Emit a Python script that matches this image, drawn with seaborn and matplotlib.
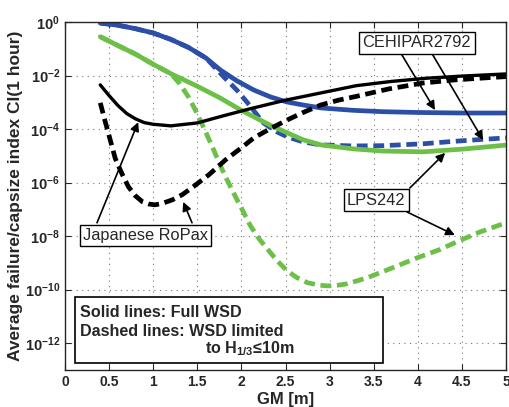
import numpy as np
import pandas as pd
import matplotlib
matplotlib.use("Agg")
import matplotlib.pyplot as plt
from matplotlib.patches import Rectangle
from matplotlib.ticker import NullLocator
import seaborn as sns

# values: GM [m] and log10 of the capsize index
ropax_gm = [0.4, 0.5, 0.6, 0.7, 0.8, 0.9, 1.0, 1.2, 1.5, 1.8, 2.1, 2.5, 2.9, 3.3, 3.7, 4.1, 4.5, 5.0]
ropax_full = [-2.35, -2.75, -3.12, -3.42, -3.62, -3.76, -3.82, -3.88, -3.77, -3.5, -3.24, -2.92,
              -2.65, -2.38, -2.22, -2.1, -2.02, -1.94]

ropax_lim_gm = [0.4, 0.45, 0.5, 0.57, 0.65, 0.72, 0.8, 0.88, 0.95, 1.02, 1.1, 1.22, 1.33, 1.44,
                1.63, 1.82, 2.0, 2.14, 2.33, 2.52, 2.7, 2.9, 3.1, 3.3, 3.67, 4.06, 4.43, 4.8, 5.0]
ropax_lim = [-3.02, -3.65, -4.25, -5.1, -5.7, -6.16, -6.5, -6.72, -6.8, -6.83, -6.78, -6.64, -6.45,
             -6.19, -5.71, -5.15, -4.7, -4.33, -3.98, -3.66, -3.38, -3.1, -2.92, -2.78, -2.5,
             -2.28, -2.16, -2.08, -2.04]

cehipar_gm = [0.4, 0.6, 0.8, 1.0, 1.2, 1.4, 1.6, 1.76, 1.95, 2.14, 2.33, 2.52, 2.7, 2.9, 3.27,
              3.6, 4.0, 4.5, 5.0]
cehipar_full = [-0.04, -0.12, -0.25, -0.41, -0.65, -0.95, -1.35, -1.79, -2.2, -2.54, -2.8, -2.99,
                -3.1, -3.21, -3.3, -3.35, -3.38, -3.4, -3.4]

cehipar_lim_gm = [0.4, 0.6, 0.8, 1.0, 1.2, 1.4, 1.6, 1.7, 1.8, 1.95, 2.07, 2.25, 2.4, 2.52, 2.7,
                  2.9, 3.27, 3.6, 4.06, 4.4, 4.8, 5.0]
cehipar_lim = [-0.04, -0.12, -0.25, -0.41, -0.65, -0.95, -1.35, -1.7, -2.05, -2.55, -3.02, -3.77,
               -4.1, -4.29, -4.48, -4.59, -4.63, -4.62, -4.55, -4.46, -4.37, -4.33]

lps_gm = [0.4, 0.6, 0.8, 1.0, 1.2, 1.5, 1.76, 2.0, 2.14, 2.33, 2.52, 2.7, 2.9, 3.27, 3.6, 4.06,
          4.5, 5.0]
lps_full = [-0.55, -0.88, -1.2, -1.58, -1.93, -2.4, -2.84, -3.3, -3.54, -3.86, -4.14, -4.4, -4.59,
            -4.74, -4.82, -4.85, -4.75, -4.6]

lps_lim_gm = [0.4, 0.6, 0.8, 1.0, 1.2, 1.3, 1.4, 1.48, 1.58, 1.67, 1.76, 1.82, 1.91, 2.0, 2.1,
              2.2, 2.3, 2.4, 2.52, 2.63, 2.75, 2.88, 2.98, 3.1, 3.2, 3.43, 3.7, 4.0, 4.25, 4.45,
              4.7, 5.0]
lps_lim = [-0.55, -0.88, -1.2, -1.58, -1.93, -2.3, -2.8, -3.3, -4.0, -4.66, -5.35, -5.78, -6.38,
           -6.95, -7.6, -8.1, -8.5, -8.9, -9.3, -9.55, -9.74, -9.83, -9.86, -9.83, -9.78, -9.55,
           -9.2, -8.8, -8.5, -8.2, -7.85, -7.5]

x_ticks = [0, 0.5, 1, 1.5, 2, 2.5, 3, 3.5, 4, 4.5, 5]
y_exponents = [0, -2, -4, -6, -8, -10, -12]

BLUE = "#2b4ea6"
GREEN = "#6cbf47"
dash = (0, (2.3, 1.2))

sns.set_style("ticks")
plt.rcParams["font.family"] = ["Liberation Sans", "DejaVu Sans"]
plt.rcParams["mathtext.fontset"] = "custom"
plt.rcParams["mathtext.rm"] = "Liberation Sans"
plt.rcParams["mathtext.bf"] = "Liberation Sans:bold"

fig = plt.figure(figsize=(5.09, 4.07), dpi=100)
ax = fig.add_axes([65 / 509, 37 / 407, 441 / 509, 348 / 407])

series = [
    (cehipar_gm, cehipar_full, BLUE, "-", 3.4),
    (cehipar_lim_gm, cehipar_lim, BLUE, dash, 3.4),
    (lps_gm, lps_full, GREEN, "-", 3.4),
    (lps_lim_gm, lps_lim, GREEN, dash, 3.4),
    (ropax_gm, ropax_full, "black", "-", 2.4),
    (ropax_lim_gm, ropax_lim, "black", dash, 3.4),
]
for gm, logci, col, ls, lw in series:
    df = pd.DataFrame({"GM": gm, "CI": np.power(10.0, logci)})
    sns.lineplot(data=df, x="GM", y="CI", ax=ax, color=col, lw=lw, linestyle=ls)

ax.set_yscale("log")
ax.set_xlim(0, 5)
ax.set_ylim(1e-13, 1e0)
ax.set_xticks(x_ticks)
ax.set_xticklabels([f"{t:g}" for t in x_ticks], fontweight="bold", fontsize=10)
ax.set_yticks([10.0 ** e for e in y_exponents])
ax.set_yticklabels([r"$\mathbf{10^{%d}}$" % e for e in y_exponents], fontsize=10.5)
ax.yaxis.set_minor_locator(NullLocator())
ax.tick_params(direction="in", top=True, right=True, length=4, width=0.8)
ax.grid(True, linestyle=(0, (1, 4)), color="#777777", linewidth=0.8)
for s in ax.spines.values():
    s.set_linewidth(1.0)
ax.set_xlabel("GM [m]", fontweight="bold", fontsize=12, labelpad=2)
ax.set_ylabel("Average failure/capsize index CI(1 hour)", fontweight="bold", fontsize=12.5, labelpad=1)

# annotation boxes with arrows
box = dict(boxstyle="square,pad=0.2", fc="white", ec="black", lw=1)
arr = dict(arrowstyle="-|>", color="black", lw=1.2, mutation_scale=13, shrinkA=0, shrinkB=0)

ax.text(3.99, 10 ** -0.78, "CEHIPAR2792", fontsize=11.8, ha="center", va="center", bbox=box, zorder=5)
ax.annotate("", xy=(4.195, 10 ** -3.29), xytext=(3.82, 10 ** -1.23), arrowprops=arr)
ax.annotate("", xy=(4.74, 10 ** -4.41), xytext=(4.17, 10 ** -1.23), arrowprops=arr)

ax.text(3.53, 10 ** -6.65, "LPS242", fontsize=11.8, ha="center", va="center", bbox=box, zorder=5)
ax.annotate("", xy=(4.31, 10 ** -4.89), xytext=(3.91, 10 ** -6.2), arrowprops=arr)
ax.annotate("", xy=(4.42, 10 ** -7.96), xytext=(3.88, 10 ** -7.1), arrowprops=arr)

ax.text(0.915, 10 ** -7.98, "Japanese RoPax", fontsize=11.8, ha="center", va="center", bbox=box, zorder=5)
ax.annotate("", xy=(0.83, 10 ** -3.74), xytext=(0.363, 10 ** -7.5), arrowprops=arr)
ax.annotate("", xy=(1.34, 10 ** -6.72), xytext=(1.44, 10 ** -7.5), arrowprops=arr)

# line-style note
ax.add_patch(Rectangle((0.0227, 0.02), 0.698, 0.19, transform=ax.transAxes,
                       fc="white", ec="black", lw=1.2, zorder=5))
ax.text(0.034, 0.164, "Solid lines: Full WSD", transform=ax.transAxes, fontsize=11.6,
        fontweight="bold", va="center", zorder=6)
ax.text(0.034, 0.112, "Dashed lines: WSD limited", transform=ax.transAxes, fontsize=11.6,
        fontweight="bold", va="center", zorder=6)
ax.text(0.317, 0.062, r"to H$_{\mathbf{1/3}}$≤10m", transform=ax.transAxes, fontsize=11.6,
        fontweight="bold", va="center", zorder=6)

fig.savefig("out.png", dpi=100)
